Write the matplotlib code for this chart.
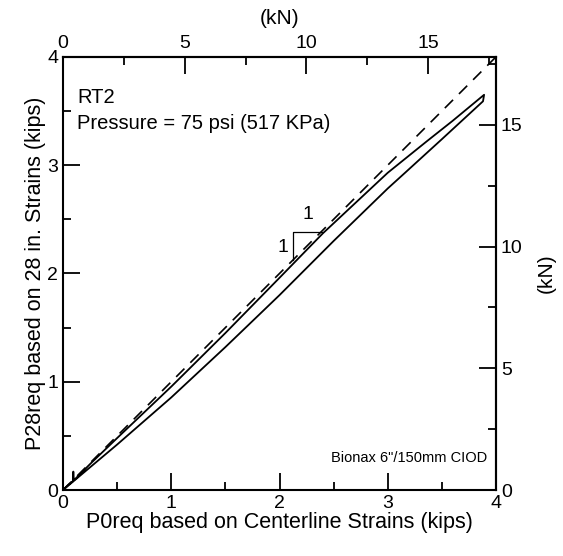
import matplotlib
matplotlib.use("Agg")
import matplotlib.pyplot as plt
from matplotlib.ticker import MultipleLocator

plt.rcParams['font.family'] = ['Liberation Sans', 'DejaVu Sans']

KIP_TO_KN = 4.448

# loading branch (upper) and unloading branch (lower), kips
upper_x = [0.0, 0.05, 0.09, 0.095, 0.10, 0.25, 0.5, 1.0, 1.5, 2.0, 2.4, 2.7, 3.0, 3.36, 3.6, 3.89]
upper_y = [0.0, 0.05, 0.08, 0.17, 0.09, 0.24, 0.48, 0.955, 1.45, 1.96, 2.37, 2.65, 2.93, 3.22, 3.41, 3.65]
lower_x = [3.89, 3.88, 3.5, 3.16, 3.0, 2.5, 2.0, 1.5, 1.0, 0.5, 0.0]
lower_y = [3.65, 3.59, 3.24, 2.93, 2.785, 2.30, 1.80, 1.32, 0.855, 0.42, 0.0]

# 1:1 reference line
ref_x = [0.0, 4.0]
ref_y = [0.0, 4.0]

# slope triangle
tri_x = [2.39, 2.128, 2.128]
tri_y = [2.386, 2.386, 2.125]

fig = plt.figure(figsize=(5.63, 5.56), dpi=100)
ax = fig.add_axes([0.112, 0.1187, 0.769, 0.779])

ax.plot(ref_x, ref_y, color='black', lw=1.2, linestyle=(0, (7, 5)))
ax.plot(upper_x + lower_x, upper_y + lower_y, color='black', lw=1.3)
ax.plot(tri_x, tri_y, color='black', lw=0.9)
ax.text(2.266, 2.54, '1', fontsize=14, ha='center', va='center')
ax.text(2.03, 2.24, '1', fontsize=14, ha='center', va='center')

ax.set_xlim(0, 4)
ax.set_ylim(0, 4)
ax.xaxis.set_major_locator(MultipleLocator(1))
ax.xaxis.set_minor_locator(MultipleLocator(0.5))
ax.yaxis.set_major_locator(MultipleLocator(1))
ax.yaxis.set_minor_locator(MultipleLocator(0.5))
ax.tick_params(which='both', direction='in', labelsize=14, width=1.3)
ax.tick_params(which='major', length=12)
ax.tick_params(which='minor', length=6)
for s in ax.spines.values():
    s.set_linewidth(1.5)

ax.set_xlabel('P0req based on Centerline Strains (kips)', fontsize=15.5, labelpad=0)
ax.set_ylabel('P28req based on 28 in. Strains (kips)', fontsize=15.5, labelpad=1)

# kN axes
top = ax.secondary_xaxis('top', functions=(lambda v: v * KIP_TO_KN, lambda v: v / KIP_TO_KN))
right = ax.secondary_yaxis('right', functions=(lambda v: v * KIP_TO_KN, lambda v: v / KIP_TO_KN))
for sec, axis in ((top, top.xaxis), (right, right.yaxis)):
    axis.set_major_locator(MultipleLocator(5))
    axis.set_minor_locator(MultipleLocator(2.5))
    sec.tick_params(which='both', direction='in', labelsize=14, width=1.3)
    sec.tick_params(which='major', length=12)
    sec.tick_params(which='minor', length=6)
    for s in sec.spines.values():
        s.set_linewidth(1.5)
top.set_xlabel('(kN)', fontsize=15, labelpad=8)
right.set_ylabel('(kN)', fontsize=15, labelpad=10)

ax.text(0.032, 0.893, 'RT2', transform=ax.transAxes, fontsize=14.5)
ax.text(0.032, 0.833, 'Pressure = 75 psi (517 KPa)', transform=ax.transAxes, fontsize=14.5)
ax.text(0.98, 0.065, 'Bionax 6"/150mm CIOD', transform=ax.transAxes, fontsize=10.5, ha='right')

fig.savefig('out.png', dpi=100)
